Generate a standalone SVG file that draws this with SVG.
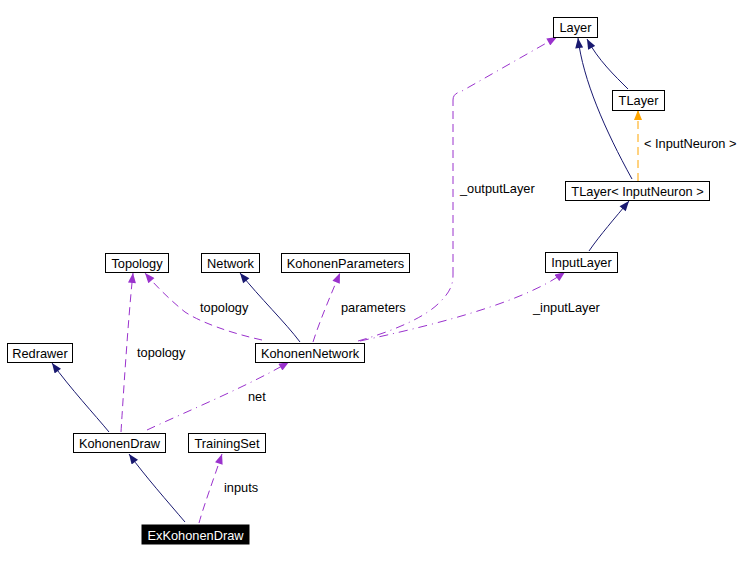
<svg xmlns="http://www.w3.org/2000/svg" width="746" height="561" viewBox="0 0 746 561">
<style>
.n rect{fill:#fff;stroke:#000;stroke-width:1}
text{font-family:"Liberation Sans",Arial,sans-serif;font-size:12.8px;fill:#000}
.n text{text-anchor:middle}
.e path{fill:none;stroke-width:1}
.inh{stroke:#191970}
.use{stroke:#9a32cd;stroke-dasharray:8,5}
.use2{stroke:#9a32cd;stroke-dasharray:9,5,1,5}
.tpl{stroke:#ffa500;stroke-dasharray:8,5}
</style>
<defs>
<marker id="aN" viewBox="0 0 10 8" refX="10" refY="4" markerWidth="11" markerHeight="8" markerUnits="userSpaceOnUse" orient="auto"><path d="M0,0 L10,4 L0,8 z" fill="#191970"/></marker>
<marker id="aP" viewBox="0 0 10 8" refX="10" refY="4" markerWidth="11" markerHeight="8" markerUnits="userSpaceOnUse" orient="auto"><path d="M0,0 L10,4 L0,8 z" fill="#9a32cd"/></marker>
<marker id="aO" viewBox="0 0 10 8" refX="10" refY="4" markerWidth="11" markerHeight="8" markerUnits="userSpaceOnUse" orient="auto"><path d="M0,0 L10,4 L0,8 z" fill="#ffa500"/></marker>
</defs>
<rect width="746" height="561" fill="#fff"/>
<g id="edges" class="e">
<path class="inh" marker-end="url(#aN)" d="M185,522 C168,502 145,476 129,454"/>
<path class="use" marker-end="url(#aP)" d="M199,523 C204,505 214,478 222,454"/>
<path class="inh" marker-end="url(#aN)" d="M109,432 C95,415 70,388 52,363"/>
<path class="use" marker-end="url(#aP)" d="M121,432 C123,400 128,320 133,273"/>
<path class="use2" marker-end="url(#aP)" d="M147,430 C190,410 250,385 289,362"/>
<path class="use" marker-end="url(#aP)" d="M262,340 C230,333 200,322 185,312 C170,300 155,285 145,273"/>
<path class="inh" marker-end="url(#aN)" d="M300,342 C285,322 260,298 240,273"/>
<path class="use" marker-end="url(#aP)" d="M313,342 C320,320 332,292 340,273"/>
<path class="use2" marker-end="url(#aP)" d="M360,341 C420,328 520,305 565,272"/>
<path class="use2" d="M358,341 C390,332 425,318 440,302 C450,292 453,285 453,275"/>
<path class="use" d="M453,275 L453,100"/>
<path class="use2" marker-end="url(#aP)" d="M453,100 C453,95 456,93 462,91 L557,37"/>
<path class="inh" marker-end="url(#aN)" d="M589,251 C600,235 615,218 629,201"/>
<path class="inh" marker-end="url(#aN)" d="M632,179 C605,130 583,80 578,38"/>
<path class="tpl" marker-end="url(#aO)" d="M638,181 L638,110"/>
<path class="inh" marker-end="url(#aN)" d="M628,89 C615,76 598,60 587,39"/>
</g>
<g id="labels">
<text x="224" y="492">inputs</text>
<text x="137" y="357">topology</text>
<text x="248" y="401">net</text>
<text x="200" y="312">topology</text>
<text x="341" y="312">parameters</text>
<text x="533" y="312">_inputLayer</text>
<text x="460" y="193">_outputLayer</text>
<text x="644" y="148">&lt; InputNeuron &gt;</text>
</g>
<g id="Layer" class="n"><rect x="553.5" y="17.5" width="44" height="20"/><text x="575.5" y="32">Layer</text></g>
<g id="TLayer" class="n"><rect x="612.5" y="90.5" width="52" height="20"/><text x="638.5" y="105">TLayer</text></g>
<g id="TLayerInputNeuron" class="n"><rect x="565.5" y="181.5" width="144" height="19"/><text x="637.5" y="195.5">TLayer&lt; InputNeuron &gt;</text></g>
<g id="InputLayer" class="n"><rect x="545.5" y="252.5" width="72" height="20"/><text x="581.5" y="267">InputLayer</text></g>
<g id="Topology" class="n"><rect x="105.5" y="253.5" width="63" height="19"/><text x="137" y="267.5">Topology</text></g>
<g id="Network" class="n"><rect x="201.5" y="253.5" width="58" height="19"/><text x="230.5" y="267.5">Network</text></g>
<g id="KohonenParameters" class="n"><rect x="281.5" y="253.5" width="128" height="19"/><text x="345.5" y="267.5">KohonenParameters</text></g>
<g id="KohonenNetwork" class="n"><rect x="255.5" y="343.5" width="109" height="19"/><text x="310" y="357.5">KohonenNetwork</text></g>
<g id="Redrawer" class="n"><rect x="7.5" y="343.5" width="65" height="19"/><text x="40" y="357.5">Redrawer</text></g>
<g id="KohonenDraw" class="n"><rect x="73.5" y="433.5" width="92" height="19"/><text x="119.5" y="447.5">KohonenDraw</text></g>
<g id="TrainingSet" class="n"><rect x="188.5" y="433.5" width="77" height="19"/><text x="227" y="447.5">TrainingSet</text></g>
<g id="ExKohonenDraw" class="n"><rect x="142" y="525" width="107" height="19" style="fill:#000;stroke:#000"/><text x="195.5" y="539.5" style="fill:#fff">ExKohonenDraw</text></g>
</svg>
